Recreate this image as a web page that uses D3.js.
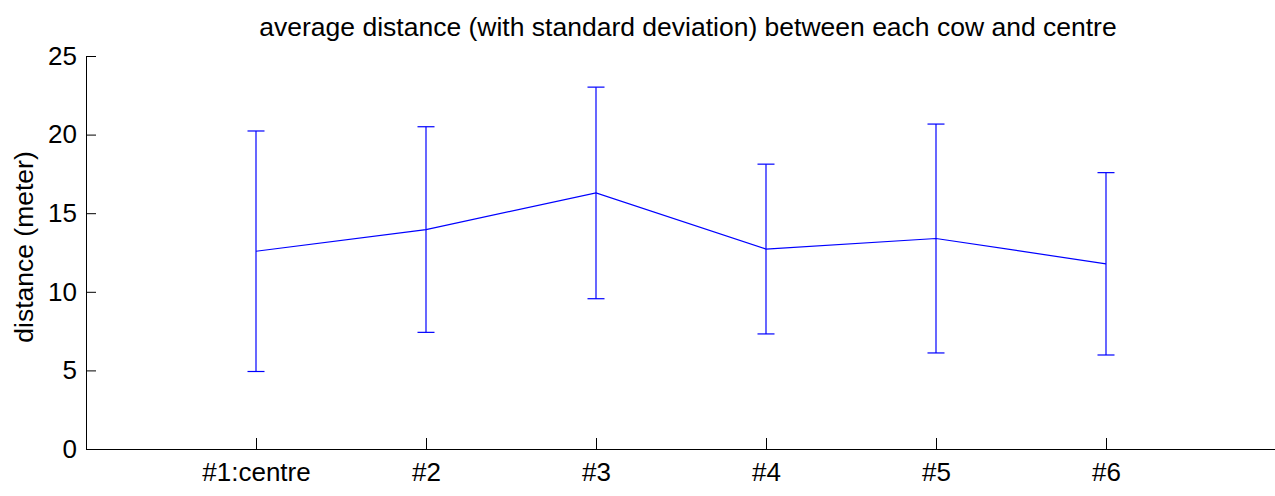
<!DOCTYPE html>
<html><head><meta charset="utf-8">
<script src="https://cdn.jsdelivr.net/npm/d3@7"></script>
<style>
html,body{margin:0;padding:0;background:#fff;}
text{font-family:"Liberation Sans",Arial,sans-serif;}
</style></head>
<body><svg id="c" width="1275" height="496"></svg>
<script>
const categories = ["#1:centre","#2","#3","#4","#5","#6"];
const means = [12.58, 13.96, 16.29, 12.72, 13.39, 11.78];
const stds = [7.65, 6.54, 6.73, 5.40, 7.28, 5.80];
const yTicks = [0,5,10,15,20,25];

const svg = d3.select("#c");
const x = d3.scaleLinear().domain([0,7]).range([86,1276]);
const y = d3.scaleLinear().domain([0,25]).range([449,56]);
const data = categories.map((c,i)=>({c, i:i+1, m:means[i], s:stds[i]}));

// axes
const yAxis = d3.axisLeft(y).tickValues(yTicks).tickSizeInner(-10).tickSizeOuter(0);
const gy = svg.append("g").attr("transform","translate(86,0)").call(yAxis);
gy.select(".domain").attr("stroke","#000");
gy.selectAll("text").style("font-size","26px").attr("fill","#000").attr("x",-9);
const xAxis = d3.axisBottom(x).tickValues(data.map(d=>d.i)).tickFormat((d,i)=>categories[i]).tickSizeInner(-11).tickSizeOuter(0);
const gx = svg.append("g").attr("transform","translate(0,449)").call(xAxis);
gx.select(".domain").attr("stroke","#000");
gx.selectAll("text").style("font-size","26px").attr("fill","#000").attr("y",14).attr("dy","0.71em");

// error bars
const g = svg.append("g").attr("stroke","#0000ff").attr("stroke-width",1.2).attr("fill","none");
data.forEach(d=>{
  const cx = x(d.i);
  g.append("line").attr("x1",cx).attr("x2",cx).attr("y1",y(d.m+d.s)).attr("y2",y(d.m-d.s));
  g.append("line").attr("x1",cx-8.5).attr("x2",cx+8.5).attr("y1",y(d.m+d.s)).attr("y2",y(d.m+d.s));
  g.append("line").attr("x1",cx-8.5).attr("x2",cx+8.5).attr("y1",y(d.m-d.s)).attr("y2",y(d.m-d.s));
});
g.append("path").datum(data).attr("d", d3.line().x(d=>x(d.i)).y(d=>y(d.m)));

svg.append("text").attr("x",688).attr("y",36).attr("text-anchor","middle").style("font-size","26.5px").text("average distance (with standard deviation) between each cow and centre");
svg.append("text").attr("transform","translate(33,247) rotate(-90)").attr("text-anchor","middle").style("font-size","26.5px").text("distance (meter)");
</script></body></html>
